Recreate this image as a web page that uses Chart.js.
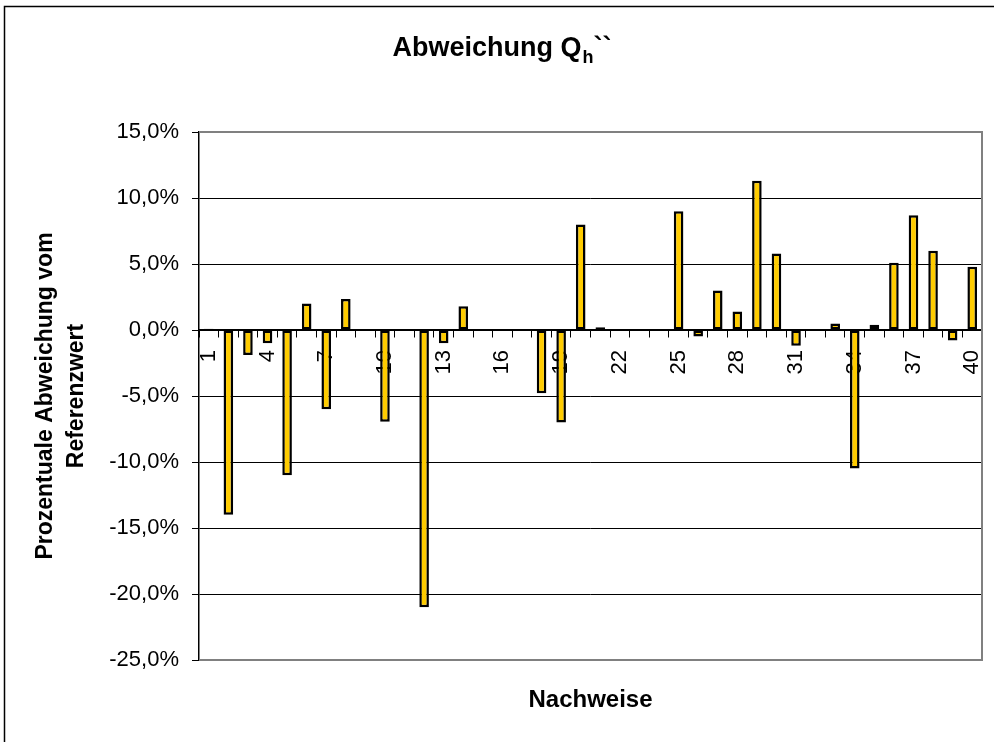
<!DOCTYPE html>
<html>
<head>
<meta charset="utf-8">
<script src="https://cdn.jsdelivr.net/npm/chart.js@4/dist/chart.umd.min.js"></script>
<style>
  html, body { margin: 0; padding: 0; background: #ffffff; }
  #wrap { width: 994px; height: 742px; position: relative; }
</style>
</head>
<body>
<div id="wrap"><canvas id="c" width="994" height="742"></canvas></div>
<script>
// ---- data ----
const categories = [1,2,3,4,5,6,7,8,9,10,11,12,13,14,15,16,17,18,19,20,
                    21,22,23,24,25,26,27,28,29,30,31,32,33,34,35,36,37,38,39,40];
const deviationPercent = [0.1, -14.0, -1.9, -1.0, -11.0, 2.0, -6.0, 2.35, null, -6.95,
                          null, -21.0, -1.0, 1.8, null, null, null, -4.8, -7.0, 8.0,
                          0.2, null, null, null, 9.0, -0.5, 3.0, 1.4, 11.3, 5.8,
                          -1.2, null, 0.5, -10.5, 0.4, 5.1, 8.7, 6.0, -0.8, 4.8];
const yTicks = { min: -25, max: 15, step: 5 };
const titleMain = 'Abweichung Q';
const titleSub = 'h';
const titleTail = '``';
const yTitle = ['Prozentuale Abweichung vom', 'Referenzwert'];
const xTitle = 'Nachweise';

const FONT = 'Arial, "Liberation Sans", sans-serif';

const framePlugin = {
  id: 'frame',
  beforeDraw(chart) {
    const ctx = chart.ctx;
    ctx.save();
    ctx.fillStyle = '#ffffff';
    ctx.fillRect(0, 0, chart.width, chart.height);
    ctx.strokeStyle = '#000000';
    ctx.lineWidth = 1.5;
    ctx.beginPath();
    ctx.moveTo(4.5, chart.height);
    ctx.lineTo(4.5, 6.5);
    ctx.lineTo(chart.width, 6.5);
    ctx.stroke();
    ctx.restore();
  },
  beforeDatasetsDraw(chart) {
    const {ctx, chartArea: a} = chart;
    ctx.save();
    ctx.strokeStyle = '#808080';
    ctx.lineWidth = 2;
    ctx.beginPath();
    ctx.moveTo(a.left, a.top);
    ctx.lineTo(a.right, a.top);
    ctx.lineTo(a.right, a.bottom);
    ctx.lineTo(a.left, a.bottom);
    ctx.stroke();
    ctx.restore();
  },
  afterDraw(chart) {
    const ctx = chart.ctx;
    ctx.save();
    ctx.fillStyle = '#000000';
    ctx.textBaseline = 'alphabetic';
    ctx.textAlign = 'left';
    const big = 'bold 27px ' + FONT;
    const small = 'bold 18px ' + FONT;
    ctx.font = big;
    const w1 = ctx.measureText(titleMain).width;
    const w3 = ctx.measureText(titleTail).width;
    ctx.font = small;
    const w2 = ctx.measureText(titleSub).width;
    const total = w1 + w2 + 1 + w3;
    const cx = 502;
    let x = cx - total / 2;
    const base = 56;
    ctx.font = big;
    ctx.fillText(titleMain, x, base);
    x += w1 + 1;
    ctx.font = small;
    ctx.fillText(titleSub, x, base + 7);
    x += w2;
    ctx.font = big;
    ctx.fillText(titleTail, x, base);
    ctx.restore();
  }
};

function noPad(scale) {
  scale.paddingLeft = 0;
  scale.paddingRight = 0;
}

new Chart(document.getElementById('c'), {
  type: 'bar',
  data: {
    labels: categories,
    datasets: [{
      data: deviationPercent,
      backgroundColor: '#FFCC00',
      borderColor: '#000000',
      borderWidth: 2.5,
      borderSkipped: false,
      categoryPercentage: 1.0,
      barPercentage: 0.49,
      xAxisID: 'x',
      yAxisID: 'y'
    }]
  },
  options: {
    responsive: false,
    animation: false,
    devicePixelRatio: 1,
    layout: { padding: { top: 132, right: 12, bottom: 0, left: 0 } },
    plugins: {
      legend: { display: false },
      title: { display: false },
      tooltip: { enabled: false }
    },
    scales: {
      y: {
        position: 'left',
        min: yTicks.min,
        max: yTicks.max,
        afterFit(scale) { scale.width = 199; },
        ticks: {
          stepSize: yTicks.step,
          color: '#000000',
          padding: 13,
          font: { family: FONT, size: 22 },
          callback: v => v.toFixed(1).replace('.', ',') + '%'
        },
        grid: {
          color: '#000000',
          lineWidth: 1,
          tickLength: 7,
          drawTicks: true
        },
        border: { display: true, color: '#000000', width: 1.5 },
        title: {
          display: true,
          text: yTitle,
          color: '#000000',
          font: { family: FONT, size: 23, weight: 'bold', lineHeight: 1.35 },
          padding: { top: 30, bottom: 0 }
        }
      },
      x: {
        position: { y: 0 },
        z: 1,
        afterFit(scale) { scale.height = 0; noPad(scale); },
        ticks: {
          autoSkip: false,
          minRotation: 90,
          maxRotation: 90,
          padding: 13,
          color: '#000000',
          font: { family: FONT, size: 22 },
          callback: function (val, idx) {
            return idx % 3 === 0 ? String(categories[idx]) : '';
          }
        },
        grid: {
          display: true,
          drawOnChartArea: false,
          drawTicks: true,
          tickLength: 7,
          offset: true,
          color: '#000000'
        },
        border: { display: true, color: '#000000', width: 1.5 }
      },
      x2: {
        type: 'category',
        position: 'bottom',
        labels: categories,
        afterFit(scale) { scale.height = 82; noPad(scale); },
        ticks: { display: false },
        grid: { display: false },
        border: { display: false },
        title: {
          display: true,
          text: xTitle,
          color: '#000000',
          font: { family: FONT, size: 24, weight: 'bold', lineHeight: 1.2 },
          padding: { top: 0, bottom: 27 }
        }
      }
    }
  },
  plugins: [framePlugin]
});
</script>
</body>
</html>
